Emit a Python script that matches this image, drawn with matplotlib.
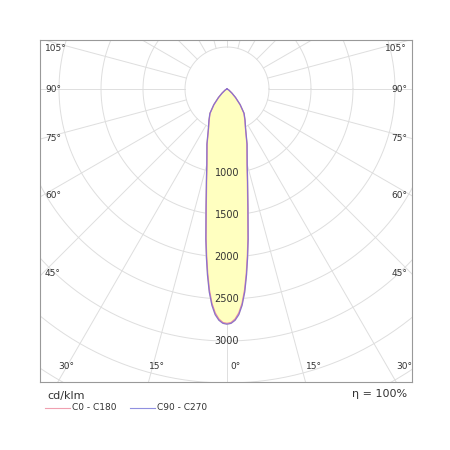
import numpy as np
import matplotlib
matplotlib.use("Agg")
from matplotlib import pyplot as plt
from matplotlib.lines import Line2D

# luminous intensity (cd/klm) vs gamma angle (deg), symmetric
gamma = [0, 1, 2, 3, 4, 5, 6, 7, 8, 10, 12.5, 15, 20, 25, 30, 35, 40, 45, 50, 60, 70, 90]
c0_c180 = [2790, 2780, 2740, 2670, 2560, 2400, 2200, 1990, 1790, 1420, 1120, 920, 690, 520, 425, 350, 240, 140, 75, 25, 5, 0]
c90_c270 = [2800, 2790, 2755, 2690, 2580, 2425, 2225, 2015, 1810, 1440, 1135, 930, 700, 525, 430, 355, 245, 145, 78, 25, 5, 0]
ring_labels = [1000, 1500, 2000, 2500, 3000]
rings = np.arange(500, 8001, 500)
spokes = np.arange(0, 360, 15)

fig = plt.figure(figsize=(4.5, 4.5), dpi=100)
ax = fig.add_axes([40/450, 1-382/450, 372/450, 342/450])
sc = 500/42.0
x0, x1 = -187*sc, 185*sc
y0, y1 = -293*sc, 49*sc
ax.set_xlim(x0, x1); ax.set_ylim(y0, y1)
ax.set_xticks([]); ax.set_yticks([])
for s in ax.spines.values():
    s.set_color("#999999"); s.set_linewidth(0.8)

grid = "#dedede"
t = np.linspace(0, 2*np.pi, 400)
for r in rings:
    ax.plot(r*np.cos(t), r*np.sin(t), color=grid, lw=0.7, zorder=1)
for a in spokes:
    th = np.radians(a)
    ax.plot([500*np.sin(th), 9000*np.sin(th)], [-500*np.cos(th), -9000*np.cos(th)],
            color=grid, lw=0.7, zorder=1)

def lobe(vals):
    g = np.radians(np.array(gamma))
    v = np.array(vals, float)
    gg = np.concatenate([-g[::-1], g[1:]])
    vv = np.concatenate([v[::-1], v[1:]])
    return vv*np.sin(gg), -vv*np.cos(gg)

xa, ya = lobe(c0_c180)
xb, yb = lobe(c90_c270)
ax.fill(xb, yb, color="#ffffc0", zorder=2)
ax.plot(xa, ya, color="#e88fa0", lw=0.9, zorder=3)
ax.plot(xb, yb, color="#8a70d0", lw=0.9, zorder=3)

for r in ring_labels:
    ax.text(0, -r, str(r), ha="center", va="center", fontsize=7, color="#333333", zorder=4)

# angle labels where spokes meet the frame
for a in [105, 90, 75, 60, 45]:
    th = np.radians(a)
    dx, dy = np.sin(th), -np.cos(th)
    y = min(x1/dx*dy, y1 - 100)
    ax.text(x0 + 60, y, f"{a}°", ha="left", va="center", fontsize=6.5, color="#333333")
    ax.text(x1 - 60, y, f"{a}°", ha="right", va="center", fontsize=6.5, color="#333333")
for a in [30, 15, 0]:
    th = np.radians(a)
    x = abs(y0/np.cos(th))*np.sin(th)
    for sx in ([1, -1] if a else [1]):
        ax.text(sx*x + 100, y0 + 130, f"{a}°", ha="center", va="bottom", fontsize=6.5, color="#333333")

fig.text(47/450, 1-396/450, "cd/klm", fontsize=8, va="center", color="#333333")
fig.text(407/450, 1-394/450, "η = 100%", fontsize=8, va="center", ha="right", color="#333333")
fig.add_artist(Line2D([45/450, 70/450], [1-408/450]*2, color="#f0a0b0", lw=0.8))
fig.text(72/450, 1-408/450, "C0 - C180", fontsize=6.5, va="center", color="#333333")
fig.add_artist(Line2D([130/450, 155/450], [1-408/450]*2, color="#9090e0", lw=0.8))
fig.text(157/450, 1-408/450, "C90 - C270", fontsize=6.5, va="center", color="#333333")

fig.savefig("out.png", dpi=100, facecolor="white")
